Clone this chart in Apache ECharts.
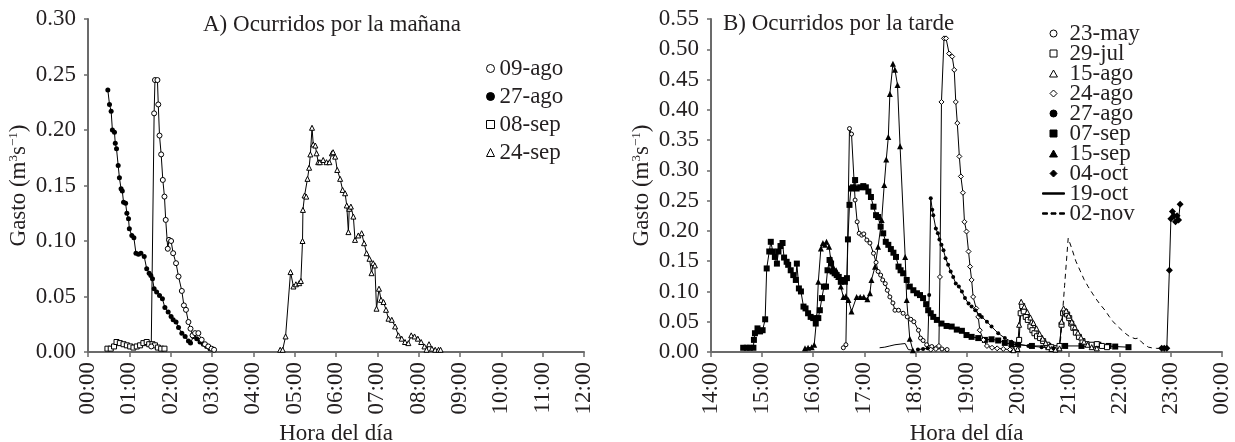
<!DOCTYPE html>
<html>
<head>
<meta charset="utf-8">
<script src="https://cdn.jsdelivr.net/npm/echarts@6/dist/echarts.min.js"></script>
<style>html,body{margin:0;padding:0;background:#fff}#main{width:1235px;height:442px}</style>
</head>
<body>
<div id="main"></div>
<script>
// Panel A - ocurridos por la mañana  [hora decimal, gasto m3/s]
var ago09 = [[1.53,0.005],[1.60,0.215],[1.62,0.245],[1.68,0.245],[1.70,0.223],[1.73,0.195],[1.77,0.178],[1.81,0.155],[1.85,0.140],[1.88,0.119],[1.93,0.093],[1.96,0.101],[2.01,0.100],[2.06,0.089],[2.13,0.080],[2.19,0.068],[2.27,0.055],[2.32,0.042],[2.37,0.038],[2.43,0.027],[2.48,0.021],[2.53,0.015],[2.59,0.017],[2.67,0.017],[2.75,0.011],[2.83,0.007],[2.91,0.005],[2.99,0.003],[3.05,0.002]];
var ago27 = [[0.48,0.236],[0.52,0.223],[0.56,0.217],[0.59,0.200],[0.64,0.198],[0.66,0.188],[0.69,0.183],[0.73,0.168],[0.76,0.157],[0.80,0.147],[0.83,0.145],[0.86,0.135],[0.91,0.134],[0.94,0.125],[0.98,0.120],[1.00,0.111],[1.06,0.105],[1.11,0.103],[1.16,0.089],[1.22,0.088],[1.28,0.089],[1.36,0.086],[1.42,0.075],[1.48,0.071],[1.52,0.069],[1.56,0.066],[1.60,0.057],[1.66,0.054],[1.73,0.051],[1.80,0.048],[1.86,0.040],[1.94,0.036],[2.01,0.032],[2.06,0.029],[2.13,0.027],[2.19,0.022],[2.27,0.017],[2.35,0.014],[2.43,0.010],[2.48,0.008],[2.55,0.014],[2.63,0.012],[2.71,0.009],[2.79,0.007],[2.87,0.005],[2.95,0.003],[3.03,0.002]];
var sep08 = [[0.47,0.003],[0.55,0.003],[0.63,0.005],[0.69,0.009],[0.77,0.008],[0.86,0.007],[0.94,0.006],[1.02,0.005],[1.10,0.004],[1.18,0.005],[1.26,0.006],[1.34,0.008],[1.42,0.009],[1.48,0.007],[1.56,0.007],[1.62,0.006],[1.69,0.004],[1.77,0.003],[1.85,0.003]];
var sep24 = [[4.65,0.002],[4.71,0.002],[4.78,0.014],[4.90,0.072],[4.97,0.059],[5.03,0.061],[5.11,0.062],[5.15,0.064],[5.19,0.100],[5.20,0.128],[5.24,0.141],[5.28,0.140],[5.31,0.156],[5.35,0.166],[5.38,0.178],[5.42,0.202],[5.45,0.187],[5.50,0.186],[5.53,0.179],[5.57,0.171],[5.61,0.171],[5.69,0.173],[5.77,0.171],[5.84,0.171],[5.90,0.179],[5.93,0.180],[5.98,0.176],[6.03,0.164],[6.10,0.156],[6.16,0.146],[6.22,0.143],[6.26,0.132],[6.30,0.108],[6.32,0.129],[6.36,0.131],[6.42,0.122],[6.46,0.101],[6.54,0.105],[6.62,0.107],[6.68,0.098],[6.74,0.089],[6.81,0.084],[6.86,0.071],[6.90,0.080],[6.94,0.078],[6.98,0.039],[7.04,0.057],[7.09,0.047],[7.15,0.045],[7.21,0.038],[7.27,0.030],[7.35,0.029],[7.43,0.023],[7.51,0.015],[7.59,0.012],[7.67,0.009],[7.75,0.008],[7.82,0.015],[7.90,0.014],[7.98,0.012],[8.06,0.009],[8.14,0.005],[8.19,0.002],[8.25,0.007],[8.32,0.003],[8.40,0.002],[8.48,0.002],[8.53,0.002]];

// Panel B - ocurridos por la tarde
var may23 = [[16.59,0.007],[16.64,0.012],[16.71,0.369],[16.75,0.360],[16.82,0.251],[16.86,0.215],[16.90,0.196],[16.95,0.193],[16.99,0.195],[17.05,0.185],[17.11,0.180],[17.18,0.163],[17.23,0.148],[17.27,0.133],[17.32,0.127],[17.36,0.119],[17.41,0.113],[17.45,0.102],[17.50,0.091],[17.56,0.081],[17.60,0.069],[17.67,0.069],[17.76,0.064],[17.84,0.058],[17.91,0.054],[17.97,0.050],[18.06,0.036],[18.10,0.023],[18.15,0.019],[18.22,0.012],[18.32,0.009],[18.42,0.007],[18.52,0.005],[18.62,0.004]];
var jul29 = [[19.90,0.004],[19.98,0.005],[20.03,0.020],[20.06,0.064],[20.09,0.076],[20.12,0.067],[20.16,0.058],[20.20,0.053],[20.25,0.042],[20.29,0.036],[20.33,0.031],[20.38,0.026],[20.44,0.023],[20.50,0.018],[20.58,0.012],[20.66,0.008],[20.75,0.006],[20.82,0.010],[20.86,0.045],[20.89,0.064],[20.93,0.066],[20.97,0.062],[21.01,0.056],[21.05,0.047],[21.09,0.040],[21.14,0.032],[21.20,0.025],[21.27,0.018],[21.35,0.013],[21.45,0.012],[21.55,0.013],[21.65,0.010],[21.75,0.008]];
var ago15 = [[19.92,0.003],[20.00,0.005],[20.03,0.045],[20.07,0.083],[20.13,0.075],[20.19,0.066],[20.25,0.057],[20.31,0.048],[20.37,0.039],[20.43,0.030],[20.49,0.022],[20.55,0.015],[20.60,0.008],[20.66,0.005],[20.74,0.004],[20.82,0.006],[20.86,0.050],[20.90,0.072],[20.95,0.068],[21.00,0.060],[21.06,0.050],[21.12,0.041],[21.18,0.032],[21.24,0.024],[21.30,0.017],[21.37,0.012],[21.45,0.008],[21.55,0.006]];
var ago24 = [[18.30,0.004],[18.40,0.005],[18.46,0.010],[18.48,0.124],[18.51,0.413],[18.56,0.518],[18.60,0.518],[18.66,0.493],[18.72,0.488],[18.76,0.466],[18.79,0.413],[18.82,0.378],[18.86,0.323],[18.89,0.290],[18.93,0.263],[18.96,0.215],[19.00,0.199],[19.04,0.166],[19.07,0.141],[19.10,0.119],[19.13,0.091],[19.19,0.072],[19.23,0.058],[19.26,0.036],[19.33,0.020],[19.40,0.010],[19.50,0.007],[19.60,0.006],[19.72,0.005],[19.85,0.004]];
var ago27b = [[18.05,0.004],[18.15,0.005],[18.24,0.006],[18.27,0.094],[18.30,0.254],[18.33,0.235],[18.35,0.226],[18.40,0.204],[18.44,0.196],[18.47,0.186],[18.51,0.177],[18.55,0.168],[18.59,0.155],[18.64,0.144],[18.69,0.133],[18.74,0.124],[18.79,0.113],[18.85,0.108],[18.91,0.100],[18.97,0.089],[19.04,0.080],[19.10,0.075],[19.17,0.069],[19.26,0.061],[19.30,0.058],[19.40,0.050],[19.49,0.042],[19.62,0.031],[19.75,0.023],[19.88,0.017],[20.01,0.013],[20.21,0.010],[20.47,0.008],[20.70,0.006]];
var sep07 = [[14.63,0.007],[14.70,0.007],[14.76,0.007],[14.83,0.007],[14.84,0.020],[14.86,0.031],[14.91,0.039],[14.96,0.034],[15.01,0.036],[15.06,0.054],[15.09,0.138],[15.14,0.166],[15.17,0.182],[15.21,0.166],[15.25,0.157],[15.29,0.146],[15.32,0.166],[15.36,0.175],[15.40,0.180],[15.43,0.156],[15.48,0.149],[15.51,0.144],[15.56,0.135],[15.61,0.127],[15.66,0.119],[15.68,0.146],[15.72,0.105],[15.76,0.100],[15.81,0.075],[15.85,0.072],[15.90,0.064],[15.95,0.058],[16.00,0.056],[16.05,0.047],[16.10,0.056],[16.13,0.069],[16.17,0.089],[16.21,0.108],[16.25,0.108],[16.28,0.135],[16.32,0.152],[16.35,0.146],[16.38,0.133],[16.42,0.130],[16.46,0.127],[16.50,0.124],[16.54,0.116],[16.57,0.119],[16.62,0.116],[16.66,0.122],[16.68,0.186],[16.71,0.243],[16.74,0.270],[16.78,0.272],[16.82,0.284],[16.85,0.270],[16.92,0.272],[16.98,0.274],[17.03,0.272],[17.08,0.265],[17.13,0.256],[17.18,0.240],[17.23,0.226],[17.27,0.223],[17.32,0.207],[17.37,0.196],[17.42,0.182],[17.47,0.177],[17.52,0.170],[17.57,0.164],[17.62,0.157],[17.67,0.141],[17.71,0.135],[17.76,0.130],[17.83,0.119],[17.89,0.108],[17.96,0.102],[18.03,0.097],[18.09,0.094],[18.15,0.089],[18.21,0.079],[18.25,0.069],[18.30,0.064],[18.35,0.058],[18.42,0.053],[18.51,0.047],[18.61,0.043],[18.71,0.042],[18.81,0.037],[18.91,0.035],[19.00,0.028],[19.10,0.025],[19.23,0.023],[19.36,0.020],[19.49,0.021],[19.62,0.019],[19.75,0.015],[19.88,0.013],[20.01,0.012],[20.28,0.010],[20.60,0.010],[20.93,0.010],[21.25,0.010],[21.58,0.012],[21.78,0.010],[21.91,0.009],[22.17,0.008]];
var sep15 = [[15.84,0.006],[15.90,0.007],[15.97,0.008],[16.02,0.012],[16.07,0.058],[16.10,0.116],[16.15,0.171],[16.19,0.180],[16.23,0.177],[16.26,0.182],[16.31,0.174],[16.34,0.155],[16.39,0.141],[16.45,0.135],[16.49,0.124],[16.54,0.108],[16.59,0.091],[16.64,0.092],[16.69,0.086],[16.75,0.067],[16.85,0.091],[16.92,0.091],[16.99,0.091],[17.06,0.087],[17.11,0.097],[17.14,0.119],[17.21,0.141],[17.27,0.174],[17.34,0.218],[17.39,0.276],[17.43,0.318],[17.47,0.355],[17.50,0.426],[17.56,0.476],[17.60,0.466],[17.65,0.441],[17.70,0.340],[17.80,0.157],[17.83,0.086],[17.89,0.022],[17.95,0.003]];
var oct04 = [[22.82,0.006],[22.87,0.006],[22.92,0.006],[22.97,0.135],[23.00,0.220],[23.03,0.232],[23.06,0.225],[23.09,0.215],[23.12,0.225],[23.15,0.218],[23.18,0.244]];
var oct19 = [[17.30,0.007],[17.40,0.008],[17.50,0.010],[17.60,0.012],[17.70,0.013],[17.80,0.014],[17.86,0.004],[17.95,0.003]];
var nov02 = [[20.75,0.004],[20.84,0.020],[20.92,0.110],[20.99,0.188],[21.06,0.171],[21.14,0.150],[21.22,0.135],[21.30,0.120],[21.38,0.108],[21.47,0.096],[21.55,0.086],[21.63,0.077],[21.71,0.069],[21.79,0.059],[21.87,0.050],[21.95,0.043],[22.04,0.036],[22.12,0.030],[22.20,0.025],[22.30,0.022],[22.36,0.023],[22.43,0.016],[22.49,0.012],[22.56,0.008],[22.62,0.007],[22.72,0.006],[22.80,0.006]];

var FONT = '"Liberation Serif", "Times New Roman", serif';
var FS = 23;
var ink = '#231f20';
var grey = '#6b6b6b';

var myChart = echarts.init(document.getElementById('main'));

var hourLabel = function (v) {
    var h = Math.round(v) % 24;
    return (h < 10 ? '0' : '') + h + ':00';
};

var mk = function (name, data, idx, symbol, size, open, dash) {
    return {
        name: name,
        type: 'line',
        xAxisIndex: idx,
        yAxisIndex: idx,
        data: data,
        symbol: symbol,
        symbolSize: size,
        lineStyle: { color: '#000', width: 1, type: dash ? [5, 4] : 'solid' },
        itemStyle: { color: open ? '#fff' : '#000', borderColor: '#000', borderWidth: open ? 1 : 0 },
        emphasis: { disabled: true }
    };
};

var xAx = function (idx, min, max) {
    return {
        gridIndex: idx, type: 'value', min: min, max: max, interval: 1,
        name: 'Hora del día', nameLocation: 'middle', nameGap: 65,
        nameTextStyle: { fontFamily: FONT, fontSize: FS, color: ink },
        axisLine: { show: true, lineStyle: { color: grey, width: 2 } },
        axisTick: { show: true, length: 5, lineStyle: { color: grey, width: 1.5 } },
        axisLabel: { rotate: 90, margin: 10, fontFamily: FONT, fontSize: FS, color: ink,
            formatter: hourLabel, showMinLabel: true, showMaxLabel: true },
        splitLine: { show: false }
    };
};

var yAx = function (idx, max) {
    return {
        gridIndex: idx, type: 'value', min: 0, max: max, interval: 0.05,
        name: '{n|Gasto (m}{u|3}{n|s}{u|−1}{n|)}', nameLocation: 'middle', nameGap: 56,
        nameTextStyle: { fontFamily: FONT, fontSize: FS, color: ink,
            rich: {
                n: { fontFamily: FONT, fontSize: FS, color: ink, lineHeight: 24, verticalAlign: 'bottom' },
                u: { fontFamily: FONT, fontSize: 13, color: ink, lineHeight: 24, verticalAlign: 'top', padding: [0, 0, 12, 0] }
            } },
        axisLine: { show: true, lineStyle: { color: grey, width: 2 } },
        axisTick: { show: true, length: 4, lineStyle: { color: grey, width: 1.5 } },
        axisLabel: { margin: 12, fontFamily: FONT, fontSize: FS, color: ink,
            formatter: function (v) { return v.toFixed(2); } },
        splitLine: { show: false }
    };
};

// legend icons for panel B (kept square inside a 22 px wide box)
var sqIcon = 'path://M0 0H6V6H0Z';
var triIcon = 'path://M3.5 0L7 6.2H0Z';
var diaIcon = 'path://M4 0L8 4L4 8L0 4Z';
var lineIcon = 'path://M0 0H22V1.4H0Z';
var dashIcon = 'path://M0 0H5V1.4H0Z M8.5 0H13.5V1.4H8.5Z M17 0H22V1.4H17Z';

option = {
    backgroundColor: '#fff',
    animation: false,
    title: [
        { text: 'A) Ocurridos por la mañana', left: 203, top: 13, padding: 0,
          textStyle: { fontFamily: FONT, fontSize: FS, fontWeight: 'normal', color: ink } },
        { text: 'B) Ocurridos por la tarde', left: 723, top: 12, padding: 0,
          textStyle: { fontFamily: FONT, fontSize: FS, fontWeight: 'normal', color: ink } }
    ],
    legend: [
        {
            left: 486, top: 57, orient: 'vertical', padding: 0,
            itemWidth: 8, itemHeight: 8, itemGap: 5, selectedMode: false,
            symbolKeepAspect: true,
            textStyle: { fontFamily: FONT, fontSize: FS, color: ink },
            itemStyle: { borderWidth: 1 },
            data: [
                { name: '09-ago', icon: 'circle' },
                { name: '27-ago', icon: 'circle' },
                { name: '08-sep', icon: 'rect' },
                { name: '24-sep', icon: 'triangle' }
            ]
        },
        {
            left: 1042, top: 22, orient: 'vertical', padding: 0,
            itemWidth: 22, itemHeight: 7, itemGap: -3, selectedMode: false,
            symbolKeepAspect: true,
            textStyle: { fontFamily: FONT, fontSize: FS, color: ink },
            itemStyle: { borderWidth: 1 },
            data: [
                { name: '23-may', icon: 'circle' },
                { name: '29-jul', icon: sqIcon },
                { name: '15-ago', icon: triIcon },
                { name: '24-ago', icon: diaIcon },
                { name: '27-ago ', icon: 'circle' },
                { name: '07-sep', icon: sqIcon },
                { name: '15-sep', icon: triIcon },
                { name: '04-oct', icon: diaIcon },
                { name: '19-oct', icon: lineIcon },
                { name: '02-nov', icon: dashIcon }
            ]
        }
    ],
    grid: [
        { left: 88, top: 19, width: 496, height: 333, outerBoundsMode: 'none' },
        { left: 711, top: 19, width: 511, height: 333, outerBoundsMode: 'none' }
    ],
    xAxis: [xAx(0, 0, 12), xAx(1, 14, 24)],
    yAxis: [yAx(0, 0.3), yAx(1, 0.55)],
    series: [
        mk('08-sep', sep08, 0, 'rect', 5, true),
        mk('24-sep', sep24, 0, 'triangle', 5, true),
        mk('27-ago', ago27, 0, 'circle', 5, false),
        mk('09-ago', ago09, 0, 'circle', 5, true),

        mk('07-sep', sep07, 1, 'rect', 6, false),
        mk('15-sep', sep15, 1, 'triangle', 6, false),
        mk('23-may', may23, 1, 'circle', 4, true),
        mk('29-jul', jul29, 1, 'rect', 5, true),
        mk('15-ago', ago15, 1, 'triangle', 5, true),
        mk('24-ago', ago24, 1, 'diamond', 5, true),
        mk('27-ago ', ago27b, 1, 'circle', 4, false),
        mk('04-oct', oct04, 1, 'diamond', 7, false),
        mk('19-oct', oct19, 1, 'none', 0, false),
        mk('02-nov', nov02, 1, 'none', 0, false, true)
    ]
};

myChart.setOption(option);
</script>
</body>
</html>
